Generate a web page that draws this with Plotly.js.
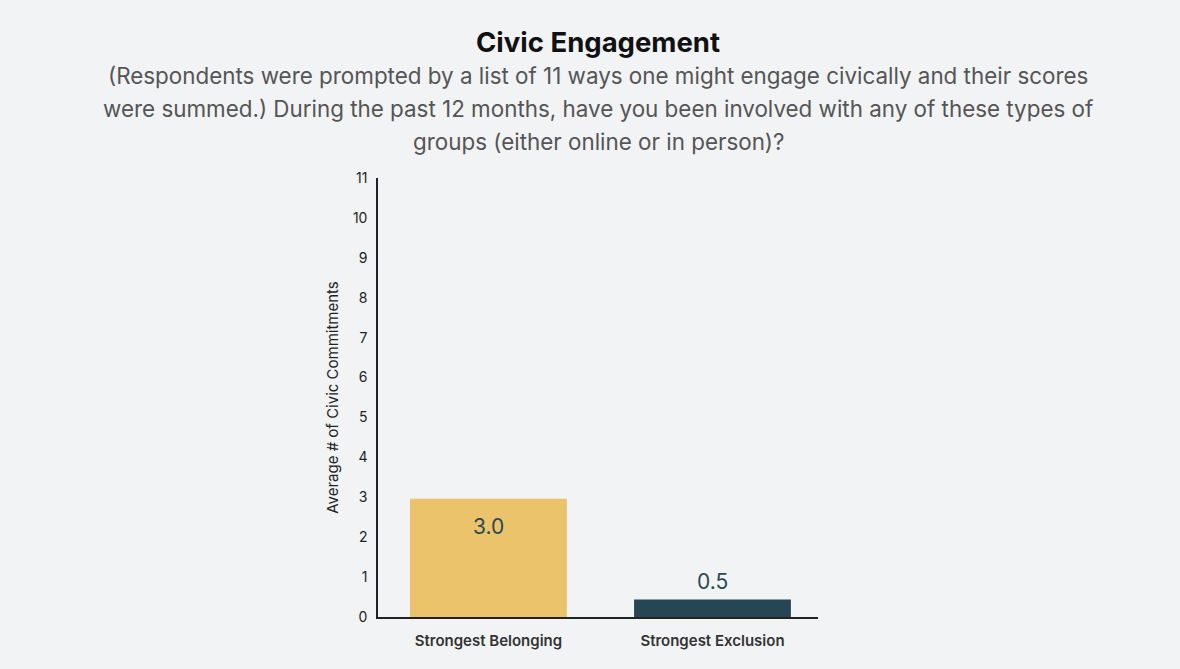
<!DOCTYPE html>
<html>
<head>
<meta charset="utf-8">
<script src="https://cdn.plot.ly/plotly-3.0.1.min.js"></script>
<style>html,body{margin:0;padding:0;background:#f2f3f5;}#chart{width:1180px;height:669px;}</style>
</head>
<body>
<div id="chart"></div>
<script>
const categories = ["Strongest Belonging", "Strongest Exclusion"];
const values = [2.96, 0.44];
const barColors = ["#EAC36A", "#264653"];
const yTicks = [0,1,2,3,4,5,6,7,8,9,10,11];
const valueLabelTexts = ["3.0", "0.5"];
const titleText = "<b>Civic Engagement</b>";
const subtitleLines = [
  "(Respondents were prompted by a list of 11 ways one might engage civically and their scores",
  "were summed.) During the past 12 months, have you been involved with any of these types of",
  "groups (either online or in person)?"
];
const yTitle = "Average # of Civic Commitments";

const FONT = "Inter, 'Noto Sans', sans-serif";
const LABEL_COLOR = "#2B4A57";

const trace = {
  type: "bar",
  x: categories,
  y: values,
  marker: {color: barColors},
  width: 0.70,
  textposition: "none",
  cliponaxis: false,
  hoverinfo: "x+y"
};

// value labels: inside-top for tall bar, above for short bar
const valueLabels = categories.map((c, i) => {
  const inside = values[i] > 1.5;
  return {
    x: c, y: values[i], xref: "x", yref: "y",
    text: valueLabelTexts[i],
    showarrow: false, xanchor: "center",
    yanchor: inside ? "top" : "bottom",
    yshift: inside ? -13 : 3,
    font: {family: FONT, size: 21, color: LABEL_COLOR}
  };
});

const layout = {
  width: 1180, height: 669,
  paper_bgcolor: "#f2f3f5",
  plot_bgcolor: "#f2f3f5",
  margin: {l: 378, r: 362, t: 178, b: 52},
  showlegend: false,
  font: {family: FONT, color: "#222"},
  xaxis: {
    type: "category",
    range: [-0.493, 1.471],
    showline: true, linecolor: "#222", linewidth: 1.5,
    showgrid: false, zeroline: false, ticks: "",
    tickfont: {family: FONT, size: 15, color: "#333", weight: 600},
    ticklabelstandoff: 9,
    fixedrange: true
  },
  yaxis: {
    range: [0, 11],
    tickvals: yTicks,
    showline: true, linecolor: "#222", linewidth: 1.5,
    showgrid: false, zeroline: false, ticks: "",
    tickfont: {family: FONT, size: 14, color: "#222"},
    ticklabelstandoff: 6,
    title: {text: yTitle, font: {family: FONT, size: 15, color: "#222"}, standoff: 11},
    fixedrange: true
  },
  annotations: [
    {text: titleText, xref: "paper", yref: "paper", x: 0.5, y: 1, yshift: 136,
     xanchor: "center", yanchor: "middle", showarrow: false,
     font: {family: FONT, size: 27.5, color: "#111"}}
  ].concat(subtitleLines.map((line, i) => ({
    text: line, xref: "paper", yref: "paper", x: 0.5, y: 1, yshift: 103 - i * 33,
    xanchor: "center", yanchor: "middle", showarrow: false,
    font: {family: FONT, size: 22.4, color: "#555"}
  }))).concat(valueLabels)
};

Plotly.newPlot("chart", [trace], layout, {displayModeBar: false, responsive: false});
</script>
</body>
</html>
